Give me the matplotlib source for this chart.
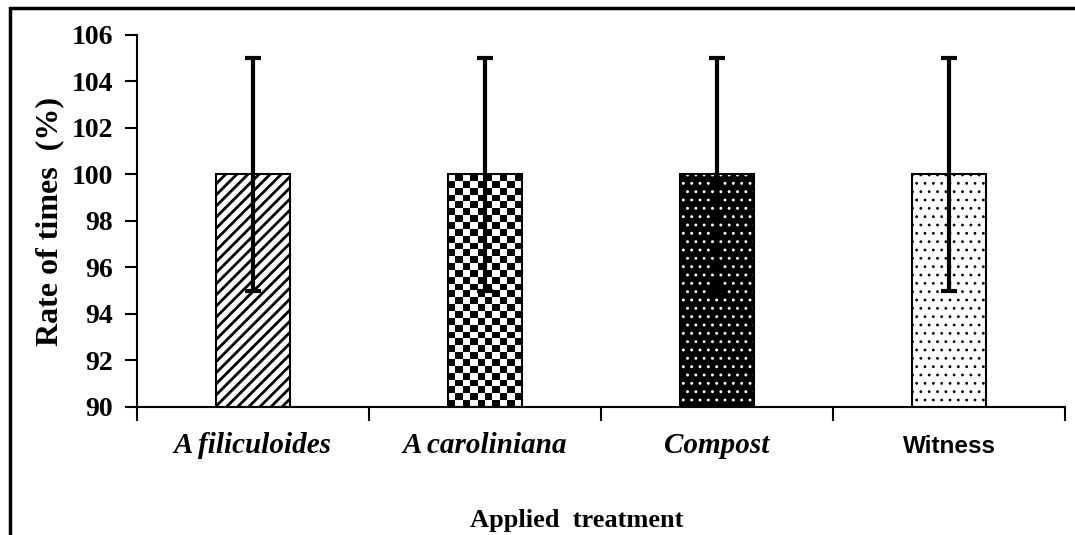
import numpy as np
import matplotlib.pyplot as plt
from matplotlib.patches import Rectangle

# data
treatments = ["A filiculoides", "A caroliniana", "Compost", "Witness"]
rates = [100, 100, 100, 100]
errors = [5, 5, 5, 5]
y_ticks = [90, 92, 94, 96, 98, 100, 102, 104, 106]

fig = plt.figure(figsize=(10.75, 5.35), dpi=100)
ax = fig.add_axes([0.1274, 0.2393, 0.8633, 0.6953])

x = np.arange(len(treatments))
width = 0.315

# bar 1: diagonal hatch
with plt.rc_context({'hatch.linewidth': 2.0}):
    ax.bar(x[0], rates[0] - 90, width, bottom=90, color='white',
           edgecolor='black', hatch='///', linewidth=1.5, zorder=2)

# bar 2: checkerboard fill clipped to the bar
b2 = ax.bar(x[1], rates[1] - 90, width, bottom=90, fill=False,
            edgecolor='black', linewidth=1.5, zorder=3)
r = b2[0]
checker = np.indices((34, 10)).sum(axis=0) % 2
im = ax.imshow(checker, cmap='gray_r', interpolation='nearest', aspect='auto',
               extent=(r.get_x(), r.get_x() + r.get_width(), r.get_y(), r.get_y() + r.get_height()),
               zorder=2)
im.set_clip_path(r)

# bar 3: black with white dots
with plt.rc_context({'hatch.linewidth': 0.9}):
    ax.bar(x[2], rates[2] - 90, width, bottom=90, color='black',
           edgecolor='white', hatch='..', linewidth=0, zorder=2)
ax.bar(x[2], rates[2] - 90, width, bottom=90, fill=False,
       edgecolor='black', linewidth=1.5, zorder=3)

# bar 4: white with sparse dots
with plt.rc_context({'hatch.linewidth': 0.8}):
    ax.bar(x[3], rates[3] - 90, width, bottom=90, color='white',
           edgecolor='black', hatch='..', linewidth=1.5, zorder=2)

ax.errorbar(x, rates, yerr=errors, fmt='none', ecolor='black', elinewidth=3,
            capsize=6, capthick=3, zorder=4)

ax.set_xlim(-0.5, 3.5)
ax.set_ylim(90, 106)
ax.set_yticks(y_ticks)
ax.set_yticklabels([str(t) for t in y_ticks], fontfamily='Liberation Serif',
                   fontweight='bold', fontsize=20)
ax.tick_params(axis='y', direction='out', length=9, width=1.5, pad=8)

ax.set_xticks(np.arange(-0.5, 4.0, 1.0))
ax.set_xticklabels([])
ax.tick_params(axis='x', direction='out', length=10, width=1.5)
ax.set_xticks(x, minor=True)
ax.set_xticklabels(treatments, minor=True)
ax.tick_params(axis='x', which='minor', length=0, pad=18)
for lab in ax.get_xticklabels(minor=True):
    if lab.get_text() == "Witness":
        lab.set_fontfamily('Liberation Sans')
        lab.set_fontweight('bold')
        lab.set_fontsize(17.5)
        lab.set_y(-0.008)
    else:
        lab.set_fontfamily('Liberation Serif')
        lab.set_fontstyle('italic')
        lab.set_fontweight('bold')
        lab.set_fontsize(21)

ax.spines['top'].set_visible(False)
ax.spines['right'].set_visible(False)
ax.spines['left'].set_linewidth(1.5)
ax.spines['bottom'].set_linewidth(1.5)

fig.text(50 / 1075, 1 - 222 / 535, "Rate of times  (%)", rotation=90,
         ha='center', va='center', fontfamily='Liberation Serif',
         fontweight='bold', fontsize=23)
fig.text(577 / 1075, 1 - 520 / 535, "Applied  treatment", ha='center',
         va='center', fontfamily='Liberation Serif', fontweight='bold',
         fontsize=19)

# outer frame around the figure
fig.patches.append(Rectangle((10 / 1075, -0.05), 1.2, 1 - 8 / 535 + 0.05,
                             transform=fig.transFigure, fill=False,
                             edgecolor='black', linewidth=2.5))

fig.savefig("out.png", dpi=100)
